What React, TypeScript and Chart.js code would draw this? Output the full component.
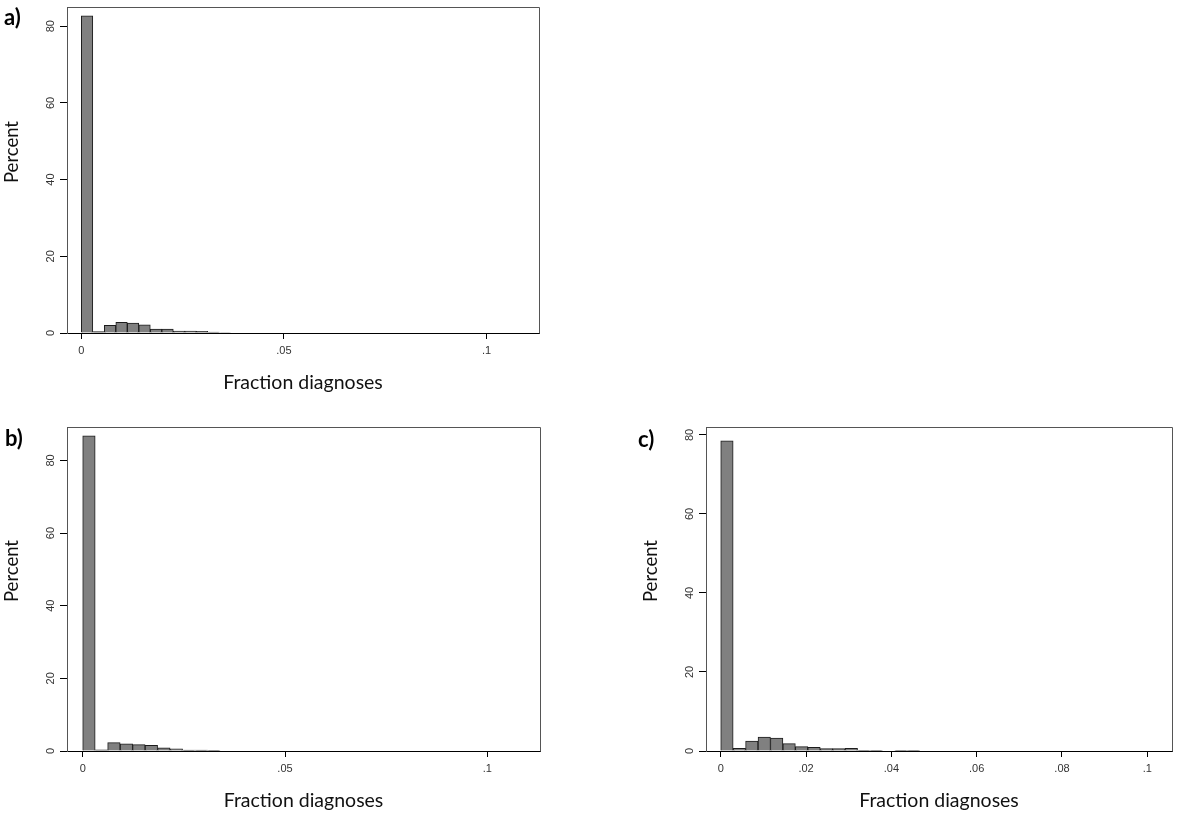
import React, { useEffect, useRef } from 'react';
import { Chart, registerables } from 'chart.js';

Chart.register(...registerables);

// ---------- data ----------
const binWidthA = 0.002837;
const percentA = [82.7, 0.35, 2.0, 2.8, 2.6, 2.1, 1.0, 1.0, 0.5, 0.5, 0.45, 0.25, 0.12];

const binWidthB = 0.003085;
const percentB = [86.8, 0.3, 2.3, 2.0, 1.75, 1.55, 0.9, 0.6, 0.25, 0.25, 0.2];

const binWidthC = 0.002916;
const percentC = [78.5, 0.7, 2.5, 3.5, 3.3, 1.85, 1.1, 0.93, 0.6, 0.6, 0.65, 0.15, 0.15, 0, 0.05, 0.15];

const yTickValues = [0, 20, 40, 60, 80];
const yTickLabels = ['0', '20', '40', '60', '80'];
const xTickValuesAB = [0, 0.05, 0.1];
const xTickLabelsAB = ['0', '.05', '.1'];
const xTickValuesC = [0, 0.02, 0.04, 0.06, 0.08, 0.1];
const xTickLabelsC = ['0', '.02', '.04', '.06', '.08', '.1'];

const xTitle = 'Fraction diagnoses';
const yTitle = 'Percent';

// ---------- layout constants ----------
const Y_W = 67;
const X_H = 70;
const PAD_TOP = 7;
const PAD_RIGHT = 10;

type PanelProps = {
  values: number[];
  binWidth: number;
  xMin: number;
  xMax: number;
  yMax: number;
  xTicks: number[];
  xLabels: string[];
  left: number;
  top: number;
  width: number;
  height: number;
};

const framePlugin = {
  id: 'stataFrame',
  beforeDatasetsDraw(chart: any) {
    const { ctx, chartArea: a } = chart;
    ctx.save();
    ctx.strokeStyle = '#555';
    ctx.lineWidth = 1;
    const l = Math.round(a.left) + 0.5;
    const r = Math.round(a.right) + 0.5;
    const t = Math.round(a.top) + 0.5;
    const b = Math.round(a.bottom) + 0.5;
    ctx.beginPath();
    ctx.moveTo(l, t);
    ctx.lineTo(r, t);
    ctx.lineTo(r, b);
    ctx.stroke();
    ctx.restore();
  },
  afterDraw(chart: any) {
    const { ctx, chartArea: a } = chart;
    const ys = chart.scales.y;
    ctx.save();
    // rotated y tick labels
    ctx.fillStyle = '#333';
    ctx.font = '11px "Liberation Sans"';
    ctx.textAlign = 'center';
    ctx.textBaseline = 'middle';
    ys.ticks.forEach((t: any, i: number) => {
      const py = ys.getPixelForValue(t.value);
      ctx.save();
      ctx.translate(a.left - 16.5, py);
      ctx.rotate(-Math.PI / 2);
      ctx.fillText(yTickLabels[i], 0, 0);
      ctx.restore();
    });
    // y axis title
    ctx.fillStyle = '#111';
    ctx.font = '18.5px Lato';
    ctx.save();
    ctx.translate(a.left - 55, (a.top + a.bottom) / 2 - 18);
    ctx.rotate(-Math.PI / 2);
    ctx.fillText(yTitle, 0, 0);
    ctx.restore();
    ctx.restore();
  },
};

function Panel(p: PanelProps) {
  const ref = useRef<HTMLCanvasElement>(null);
  useEffect(() => {
    const chart = new Chart(ref.current as HTMLCanvasElement, {
      type: 'bar',
      data: {
        datasets: [
          {
            data: p.values.map((v, i) => ({ x: (i + 0.5) * p.binWidth, y: v })),
            backgroundColor: '#808080',
            borderColor: '#1c1c1c',
            borderWidth: 1,
            barPercentage: 1,
            categoryPercentage: 1,
            borderSkipped: 'start',
          } as any,
        ],
      },
      options: {
        responsive: false,
        animation: false,
        layout: { padding: { top: PAD_TOP, right: PAD_RIGHT, left: 0, bottom: 0 } },
        plugins: { legend: { display: false }, tooltip: { enabled: false } },
        scales: {
          x: {
            type: 'linear',
            min: p.xMin,
            max: p.xMax,
            offset: false,
            afterBuildTicks: (s: any) => {
              s.ticks = p.xTicks.map((v) => ({ value: v }));
            },
            afterFit: (s: any) => {
              s.height = X_H;
            },
            ticks: {
              callback: (_v: any, i: number) => p.xLabels[i],
              autoSkip: false,
              maxRotation: 0,
              minRotation: 0,
              padding: 5,
              color: '#333',
              font: { family: '"Liberation Sans"', size: 11 },
            },
            grid: { drawOnChartArea: false, drawTicks: true, tickLength: 6, color: '#000', offset: false },
            border: { color: '#000', width: 1 },
            title: {
              display: true,
              text: xTitle,
              color: '#111',
              font: { family: 'Lato', size: 19.5 },
              padding: { top: 0, bottom: 9 },
            },
          } as any,
          y: {
            type: 'linear',
            min: 0,
            max: p.yMax,
            afterBuildTicks: (s: any) => {
              s.ticks = yTickValues.map((v) => ({ value: v }));
            },
            afterFit: (s: any) => {
              s.width = Y_W;
            },
            ticks: { display: false },
            grid: { drawOnChartArea: false, drawTicks: true, tickLength: 7, color: '#000' },
            border: { color: '#555', width: 1 },
            title: { display: false },
          } as any,
        },
      },
      plugins: [framePlugin],
    });
    return () => chart.destroy();
  }, []);
  return (
    <canvas
      ref={ref}
      width={p.width}
      height={p.height}
      style={{ position: 'absolute', left: p.left, top: p.top, width: p.width, height: p.height }}
    />
  );
}

const labelStyle: React.CSSProperties = {
  position: 'absolute',
  fontFamily: 'Lato',
  fontWeight: 700,
  fontSize: 22,
  lineHeight: '22px',
  color: '#000',
};

export default function App() {
  return (
    <div
      style={{
        position: 'fixed',
        left: 0,
        top: 0,
        width: 1180,
        height: 817,
        background: '#fff',
        overflow: 'hidden',
      }}
    >
      <Panel
        values={percentA}
        binWidth={binWidthA}
        xMin={-0.00353}
        xMax={0.11293}
        yMax={85}
        xTicks={xTickValuesAB}
        xLabels={xTickLabelsAB}
        left={0}
        top={0}
        width={549}
        height={403}
      />
      <Panel
        values={percentB}
        binWidth={binWidthB}
        xMin={-0.00388}
        xMax={0.11302}
        yMax={89.2}
        xTicks={xTickValuesAB}
        xLabels={xTickLabelsAB}
        left={0}
        top={420}
        width={550}
        height={401}
      />
      <Panel
        values={percentC}
        binWidth={binWidthC}
        xMin={-0.00345}
        xMax={0.10579}
        yMax={82}
        xTicks={xTickValuesC}
        xLabels={xTickLabelsC}
        left={639}
        top={420}
        width={543}
        height={401}
      />
      <div style={{ ...labelStyle, left: 4, top: 6 }}>a)</div>
      <div style={{ ...labelStyle, left: 5, top: 427 }}>b)</div>
      <div style={{ ...labelStyle, left: 638, top: 428 }}>c)</div>
    </div>
  );
}
